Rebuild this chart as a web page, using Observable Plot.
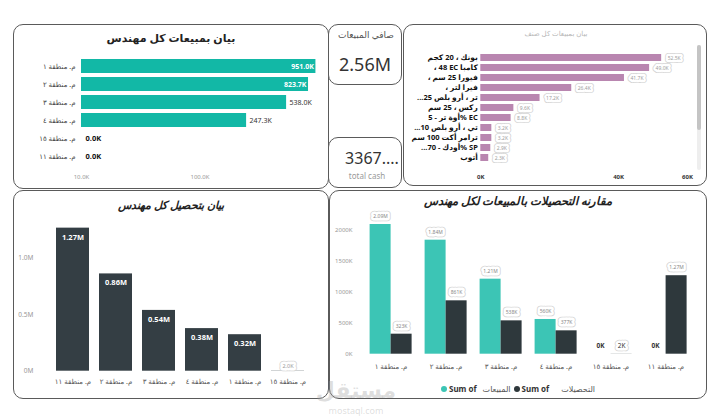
<!DOCTYPE html>
<html><head><meta charset="utf-8">
<script src="https://cdn.jsdelivr.net/npm/d3@7"></script>
<script src="https://cdn.jsdelivr.net/npm/@observablehq/plot@0.6"></script>
<style>
body{margin:0;background:#fff;font-family:'Noto Sans','DejaVu Sans',sans-serif;}
#root{position:relative;width:720px;height:416px;overflow:hidden;background:#fff;}
.panel{position:absolute;border:1.2px solid #5a5a5a;border-radius:10px;box-sizing:border-box;background:#fff;}
.abs{position:absolute;white-space:nowrap;line-height:1;}
.c{transform:translate(-50%,-50%);}
</style></head><body><div id="root"></div>
<script>
// ---------- data ----------
const engineers = ["م. منطقة ١","م. منطقة ٢","م. منطقة ٣","م. منطقة ٤","م. منطقة ١٥","م. منطقة ١١"];
const netSales = [951000, 823700, 538000, 247300, 0, 0];
const sales = [2092000, 1839000, 1210000, 560000, 0, 0];
const collections = [323000, 861000, 538000, 377000, 2000, 1266000];
const series = ["المبيعات", "التحصيلات"];
const products = ["بونك ، 20 كجم","، 48 EC كامبا","، فيورا 25 سم","، فيرا لتر","...تر ، أرو بلص 25","ركس ، 25 سم","أوة تر - 5% EC","...تي ، أرو بلص 10","ترامر أكت 100 سم","...أودك - 70% SP","أتوب"];
const productSales = [52500, 49000, 41700, 26400, 17200, 9600, 8800, 3200, 3200, 2900, 2300];
const ticksA = [10000, 100000];
const ticksC = [0, 40000, 60000];
const ticksD = [0, 500000, 1000000];
const ticksE = [0, 500000, 1000000, 1500000, 2000000];

// ---------- helpers ----------
const FONT = "'Noto Sans','DejaVu Sans',sans-serif";
const root = document.getElementById("root");
const fmtK1 = v => (v/1000).toFixed(1) + "K";
const fmtM = v => (v/1e6).toFixed(2) + "M";
const fmtE = v => v >= 1e6 ? (v/1e6).toFixed(2) + "M" : Math.round(v/1000) + "K";
function panel(l,t,w,h){const d=document.createElement("div");d.className="panel";Object.assign(d.style,{left:l+"px",top:t+"px",width:w+"px",height:h+"px"});root.appendChild(d);return d;}
function label(text,l,t,css){const d=document.createElement("div");d.className="abs c";d.textContent=text;d.style.left=l+"px";d.style.top=t+"px";Object.assign(d.style,css||{});root.appendChild(d);return d;}
function place(svg,l,t){svg.style.position="absolute";svg.style.left=l+"px";svg.style.top=t+"px";root.appendChild(svg);}
function boxText(data, opts, fs=5.5, fill="#9a9a9a", sw=5){
  return [
    Plot.text(data,{...opts,fontSize:fs,fill:"none",stroke:"#d4d4d4",strokeWidth:sw+1.6,strokeLinejoin:"round"}),
    Plot.text(data,{...opts,fontSize:fs,fill,stroke:"white",strokeWidth:sw,strokeLinejoin:"round"})
  ];
}
const baseStyle = {background:"transparent",fontFamily:FONT,overflow:"visible"};

// ---------- panels ----------
panel(13,24,316,165);
panel(328,24,74,61);
panel(328,137,74,51);
panel(403,24,304,162);
panel(13,190,316,209);
panel(329,190,378,209);

// ---------- chart A: net sales per engineer (log) ----------
const dA = engineers.map((e,i)=>({e, v:netSales[i]}));
const svgA = Plot.plot({
  width:316, height:165, marginLeft:68, marginRight:11, marginTop:28.8, marginBottom:20.6,
  style:baseStyle,
  x:{type:"log", domain:[1e4,1e6]},
  y:{domain:engineers, padding:0.225},
  marks:[
    Plot.barX(dA.filter(d=>d.v>0), {y:"e", x1:1e4, x2:"v", fill:"#12b8a6"}),
    Plot.text(dA.slice(0,2), {y:"e", x:"v", text:d=>fmtK1(d.v), textAnchor:"end", dx:-2, fill:"white", fontWeight:"bold", fontSize:7}),
    Plot.text(dA.slice(2).filter(d=>d.v>0), {y:"e", x:"v", text:d=>fmtK1(d.v), textAnchor:"start", dx:3, fill:"#333", fontSize:7}),
    Plot.text(dA.filter(d=>d.v===0), {y:"e", x:1e4, text:d=>fmtK1(d.v), textAnchor:"start", dx:4, fill:"#111", fontWeight:"bold", fontSize:7.5}),
    Plot.axisX({ticks:ticksA, tickFormat:fmtK1, tickSize:0, tickPadding:6, fontSize:6, color:"#999", label:null}),
    Plot.axisY({tickSize:0, tickPadding:6, fontSize:7, color:"#444", label:null})
  ]
});
place(svgA,13,24);

// ---------- chart C: sales per product ----------
const dC = products.map((p,i)=>({p, v:productSales[i]}));
const svgC = Plot.plot({
  width:304, height:162, marginLeft:77.3, marginRight:20, marginTop:21.3, marginBottom:16.5,
  style:baseStyle,
  x:{domain:[0,60000]},
  y:{domain:products, padding:0.31},
  marks:[
    Plot.barX(dC, {y:"p", x:"v", fill:"#b986b0"}),
    ...boxText(dC, {y:"p", x:"v", text:d=>fmtK1(d.v), textAnchor:"start", dx:6}, 5, "#a0a0a0", 4.5),
    Plot.axisX({ticks:ticksC, tickFormat:d=>d/1000+"K", tickSize:0, tickPadding:5, fontSize:6, fontWeight:"bold", color:"#333", label:null}),
    Plot.axisY({tickSize:0, tickPadding:3, fontSize:7.5, fontWeight:"bold", color:"#111", label:null})
  ]
});
place(svgC,403,24);

// ---------- chart D: collections per engineer ----------
const dD = engineers.map((e,i)=>({e, v:collections[i]})).sort((a,b)=>b.v-a.v);
const svgD = Plot.plot({
  width:316, height:209, marginLeft:32.8, marginRight:14.1, marginTop:11.2, marginBottom:28.3,
  style:baseStyle,
  x:{domain:dD.map(d=>d.e), padding:0.23},
  y:{domain:[0,1.5e6]},
  marks:[
    Plot.barY(dD, {x:"e", y:"v", fill:"#343e44"}),
    Plot.text(dD.filter(d=>d.v>=1e4), {x:"e", y:"v", text:d=>fmtM(d.v), dy:9, fill:"white", fontWeight:"bold", fontSize:7.5}),
    ...boxText(dD.filter(d=>d.v<1e4), {x:"e", y:"v", text:d=>fmtK1(d.v), dy:-5}, 5.5, "#9a9a9a", 5),
    Plot.axisX({tickSize:0, tickPadding:7.5, fontSize:7, color:"#555", label:null}),
    Plot.axisY({ticks:ticksD, tickFormat:d=>d===0?"0M":(d/1e6).toFixed(1)+"M", tickSize:0, tickPadding:13, fontSize:6.5, color:"#999", label:null})
  ]
});
place(svgD,13,190);

// ---------- chart E: collections vs sales ----------
const dE = engineers.flatMap((e,i)=>[{e, s:series[0], v:sales[i]}, {e, s:series[1], v:collections[i]}]);
const svgE = Plot.plot({
  width:378, height:209, marginLeft:37.4, marginRight:17.1, marginTop:39.7, marginBottom:45.3,
  style:{...baseStyle, fontSize:"7px"},
  fx:{domain:engineers, padding:0.21, label:null, tickSize:0, tickPadding:10, axis:"bottom"},
  x:{domain:series, padding:0, axis:null},
  y:{domain:[0,2e6], ticks:ticksE, tickFormat:d=>d/1000+"K", tickSize:0, tickPadding:17, label:null},
  color:{domain:series, range:["#3cc5b5","#2e383c"]},
  marks:[
    Plot.barY(dE, {fx:"e", x:"s", y:"v", fill:"s"}),
    ...boxText(dE.filter(d=>d.v>=1e4), {fx:"e", x:"s", y:"v", text:d=>fmtE(d.v), dy:-8}, 5, "#888", 5),
    ...boxText(dE.filter(d=>d.v>0 && d.v<1e4), {fx:"e", x:"s", y:"v", text:d=>fmtE(d.v), dy:-8}, 6.5, "#333", 5),
    Plot.text(dE.filter(d=>d.v===0), {fx:"e", x:"s", y:"v", text:d=>fmtE(d.v), dy:-8, fontWeight:"bold", fontSize:6.5, fill:"#333"})
  ]
});
svgE.querySelectorAll('g[aria-label="y-axis tick label"]').forEach(g=>{g.setAttribute("font-size","6");g.setAttribute("fill","#999");});
svgE.querySelectorAll('g[aria-label="fx-axis tick label"]').forEach(g=>{g.setAttribute("fill","#555");});
place(svgE,329,190);

// ---------- titles & cards ----------
label("بيان بمبيعات كل مهندس",171,37,{fontSize:"11px",fontWeight:"bold",color:"#222",direction:"rtl"});
label("بيان بتحصيل كل مهندس",171,204,{fontSize:"11px",fontWeight:"bold",fontStyle:"italic",color:"#222",direction:"rtl"});
label("مقارنه التحصيلات بالمبيعات لكل مهندس",518,201,{fontSize:"11.5px",fontWeight:"bold",fontStyle:"italic",color:"#222",direction:"rtl"});
label("بيان بمبيعات كل صنف",556,33,{fontSize:"7px",color:"#b8b8b8",direction:"rtl"});
label("صافي المبيعات",366,34,{fontSize:"9px",color:"#555",direction:"rtl"});
label((d3.sum(netSales)/1e6).toFixed(2)+"M",365,64,{fontSize:"18px",color:"#333"});
label(String(d3.sum(collections)).slice(0,4)+"....",372,158,{fontSize:"16px",color:"#333"});
label("total cash",367,176,{fontSize:"8px",color:"#9a9a9a"});

// legend
const lg = document.createElement("div");
lg.className="abs";
Object.assign(lg.style,{left:"441px",top:"385px",fontSize:"8px",display:"flex",alignItems:"center",direction:"ltr",color:"#333"});
const dot = c => `<span style="display:inline-block;width:6px;height:6px;border-radius:50%;background:${c};margin-right:2px"></span>`;
lg.innerHTML = `${dot("#3cc5b5")}<b>Sum of</b><span style="margin-left:6px;color:#555">${series[0]}</span>`+
  `<span style="width:3px"></span>${dot("#2e383c")}<b>Sum of</b><span style="margin-left:12px;color:#555">${series[1]}</span>`;
root.appendChild(lg);

// scrollbar of product list
const tr=document.createElement("div");tr.className="abs";Object.assign(tr.style,{left:"697px",top:"45px",width:"4px",height:"125px",background:"#eeeeee",borderRadius:"2px"});root.appendChild(tr);
const th=document.createElement("div");th.className="abs";Object.assign(th.style,{left:"697px",top:"45px",width:"4px",height:"85px",background:"#c4c4c4",borderRadius:"2px"});root.appendChild(th);

// watermark
label("مستقل",356,389,{fontSize:"22px",fontWeight:"bold",color:"rgba(160,160,160,0.35)",direction:"rtl"});
label("mostaql.com",356,410,{fontSize:"9px",color:"rgba(160,160,160,0.35)"});
</script></body></html>
